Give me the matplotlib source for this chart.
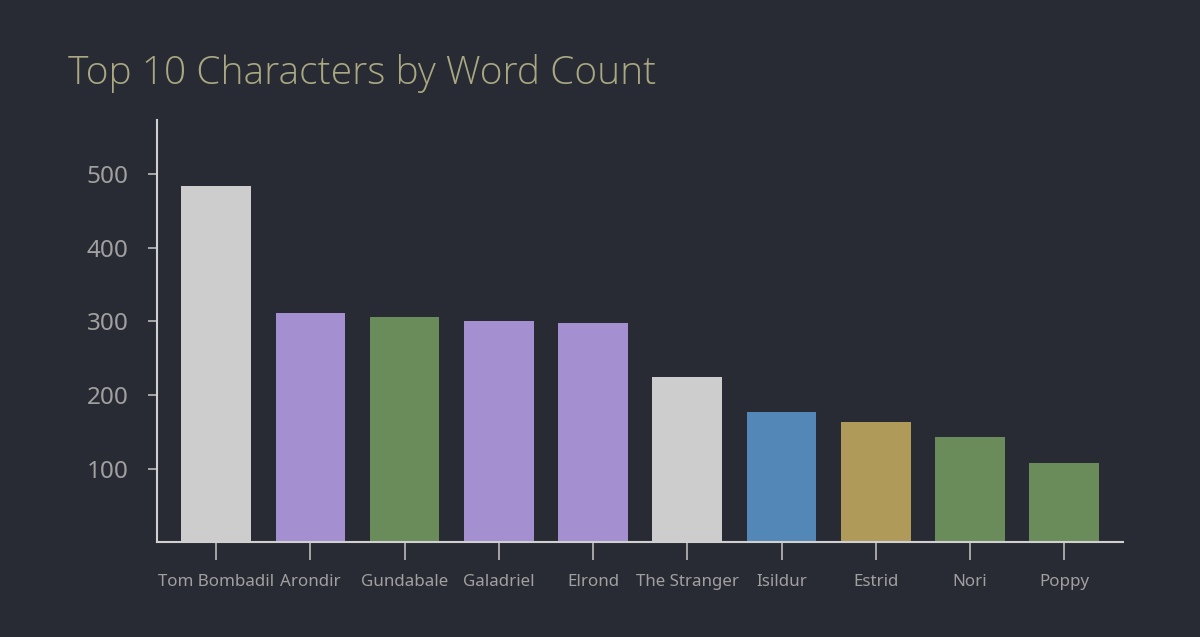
import matplotlib.pyplot as plt

# data
names = ['Tom Bombadil', 'Arondir', 'Gundabale', 'Galadriel', 'Elrond',
         'The Stranger', 'Isildur', 'Estrid', 'Nori', 'Poppy']
words = [484, 312, 306, 301, 298, 224, 177, 163, 143, 107]
colors = ['#cdcdcd', '#a48fd0', '#6a8c5a', '#a48fd0', '#a48fd0',
          '#cdcdcd', '#5287b8', '#b09a5a', '#6a8c5a', '#6a8c5a']
yticks = [100, 200, 300, 400, 500]

bg = '#282b33'
plt.rcParams['font.family'] = ['Noto Sans', 'DejaVu Sans']

fig = plt.figure(figsize=(12, 6.37), dpi=100, facecolor=bg)
ax = fig.add_axes([0.131, 0.149, 0.805, 0.663], facecolor=bg)

x = range(len(names))
ax.bar(x, words, width=0.74, color=colors)

ax.set_xlim(-0.626, 9.626)
ax.set_ylim(0, 574)
ax.set_xticks(list(x))
ax.set_xticklabels(names)
ax.set_yticks(yticks)

for s in ['top', 'right']:
    ax.spines[s].set_visible(False)
for s in ['left', 'bottom']:
    ax.spines[s].set_color('#d0d0d0')
    ax.spines[s].set_linewidth(1.5)

ax.tick_params(axis='x', length=13, width=1.2, color='#bbbbbb',
               labelcolor='#a0a0a0', labelsize=12.2, pad=10)
ax.tick_params(axis='y', length=6.5, width=1.2, color='#bbbbbb',
               labelcolor='#a0a0a0', labelsize=17.5, pad=14)

# titre
fig.text(68 / 1200, 1 - 84 / 637, 'Top 10 Characters by Word Count',
         fontsize=28, color='#a9a882', family='Open Sans', fontweight=300,
         ha='left', va='baseline')

fig.savefig('out.png', dpi=100, facecolor=bg)
